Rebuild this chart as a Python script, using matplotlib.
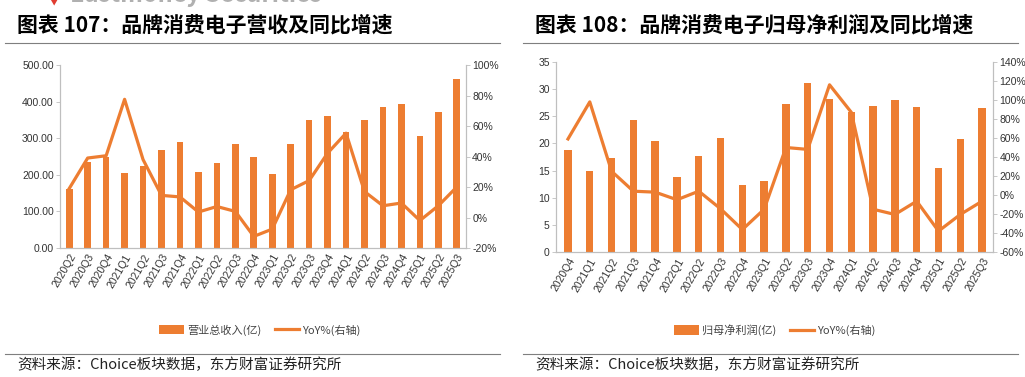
import matplotlib
matplotlib.use("Agg")
import matplotlib.pyplot as plt
import numpy as np
from matplotlib.ticker import FuncFormatter

plt.rcParams['font.family'] = ['Noto Sans CJK SC', 'DejaVu Sans']

ORANGE = '#ED7D31'
GREY = '#BFBFBF'
NARROW = ['Liberation Sans Narrow', 'Liberation Sans', 'DejaVu Sans']

# 营收
rev_q = ['2020Q2', '2020Q3', '2020Q4', '2021Q1', '2021Q2', '2021Q3', '2021Q4',
         '2022Q1', '2022Q2', '2022Q3', '2022Q4', '2023Q1', '2023Q2', '2023Q3',
         '2023Q4', '2024Q1', '2024Q2', '2024Q3', '2024Q4', '2025Q1', '2025Q2', '2025Q3']
rev = [162, 236, 249, 204, 224, 268, 290, 208, 233, 284, 249, 202, 284, 350,
       361, 317, 350, 384, 393, 307, 372, 463]
rev_yoy = [19, 39, 40.5, 77.5, 38, 14.5, 13.5, 3.6, 7.2, 4, -12.4, -7.6, 18.2, 24.2,
           42.2, 55.3, 17, 7.7, 9.5, -2, 7.7, 20]

# 归母净利润
np_q = ['2020Q4', '2021Q1', '2021Q2', '2021Q3', '2021Q4', '2022Q1', '2022Q2',
        '2022Q3', '2022Q4', '2023Q1', '2023Q2', '2023Q3', '2023Q4', '2024Q1',
        '2024Q2', '2024Q3', '2024Q4', '2025Q1', '2025Q2', '2025Q3']
profit = [18.7, 15.0, 17.4, 24.3, 20.4, 13.9, 17.7, 21.0, 12.3, 13.0,
          27.2, 31.1, 28.1, 25.7, 26.9, 28.0, 26.7, 15.5, 20.9, 26.6]
profit_yoy = [59, 98, 25, 4, 3, -5, 4, -14.5, -36.4, -15,
              50, 48, 116, 87, -15, -20.5, -6.5, -38, -20.5, -6.5]

W, H = 1025, 377
fig = plt.figure(figsize=(W / 100, H / 100), dpi=100)


def px_axes(x0, y0, x1, y1):
    return fig.add_axes([x0 / W, 1 - y1 / H, (x1 - x0) / W, (y1 - y0) / H])


def style(ax, ax2, labels, xlim):
    for a in (ax, ax2):
        a.spines['top'].set_visible(False)
        for s in ('left', 'right', 'bottom'):
            a.spines[s].set_color(GREY)
            a.spines[s].set_linewidth(0.8)
        a.tick_params(axis='y', length=3, width=0.6, color=GREY, labelsize=7.5,
                      labelcolor='#333333', pad=1.5)
    ax.set_xlim(*xlim)
    ax.set_xticks(np.arange(len(labels)))
    ax.set_xticklabels(labels, rotation=60, ha='right', rotation_mode='anchor',
                       fontsize=7.5, family=NARROW, color='#333333')
    ax.tick_params(axis='x', length=0, pad=3)
    for t in ax.get_yticklabels() + ax2.get_yticklabels():
        t.set_family(NARROW)


def panel(x0, title, cats, bars, yoy, ax_box, bar_w, xlim, ylim, ylim2,
          yfmt, bar_label, leg_x):
    ax = px_axes(*ax_box)
    ax2 = ax.twinx()
    x = np.arange(len(cats))
    b = ax.bar(x, bars, width=bar_w, color=ORANGE, label=bar_label)
    l, = ax2.plot(x, yoy, color=ORANGE, lw=2.3, label='YoY%(右轴)')
    ax.set_ylim(*ylim)
    ax2.set_ylim(*ylim2)
    ax2.yaxis.set_major_formatter(FuncFormatter(lambda v, p: f'{v:.0f}%'))
    ax.yaxis.set_major_formatter(FuncFormatter(yfmt))
    style(ax, ax2, cats, xlim)
    ax.set_zorder(ax2.get_zorder() - 1)
    ax2.patch.set_visible(False)
    ax.patch.set_visible(False)
    fig.legend([b, l], [bar_label, 'YoY%(右轴)'], loc='center',
               bbox_to_anchor=(leg_x / W, 1 - 330 / H), ncol=2, frameon=False,
               fontsize=8, handlelength=2.2, handleheight=0.9, columnspacing=1.2,
               handletextpad=0.3, labelcolor='#444444')
    fig.text((x0 + 17) / W, 1 - 25 / H, title, fontsize=15, fontweight='bold',
             va='center', ha='left', color='black')
    for yy in (43, 354):
        fig.lines.append(plt.Line2D([(x0 + 5) / W, (x0 + 500) / W], [1 - yy / H] * 2,
                                    transform=fig.transFigure, color='#7F7F7F', lw=0.8))
    fig.text((x0 + 17) / W, 1 - 365 / H, '资料来源：Choice板块数据，东方财富证券研究所',
             fontsize=10.5, va='center', ha='left', color='#222222')
    return ax, ax2


ax, ax2 = panel(0, '图表 107：品牌消费电子营收及同比增速', rev_q, rev, rev_yoy,
                (60, 65, 466, 248), 0.36, (-0.5, 21.5), (0, 500), (-20, 100),
                lambda v, p: f'{v:.2f}', '营业总收入(亿)', 260)
ax.set_yticks(np.arange(0, 501, 100))
ax2.set_yticks(np.arange(-20, 101, 20))

bx, bx2 = panel(518, '图表 108：品牌消费电子归母净利润及同比增速', np_q, profit, profit_yoy,
                (556, 62, 993, 252), 0.34, (-0.55, 19.5), (0, 35), (-60, 140),
                lambda v, p: f'{v:.0f}', '归母净利润(亿)', 775)
bx.set_yticks(np.arange(0, 36, 5))
bx2.set_yticks(np.arange(-60, 141, 20))

# clipped header text at the very top (cut off in the original too)
fig.text(70 / W, 1 + 5 / H, 'Eastmoney Securities', fontsize=17, fontweight='bold',
         color='#B0B0B0', va='center', ha='left')
fig.text(50 / W, 1 - 2 / H, '▼', fontsize=6, color='#E03C31', va='center', ha='left')

fig.savefig('out.png', dpi=100)
